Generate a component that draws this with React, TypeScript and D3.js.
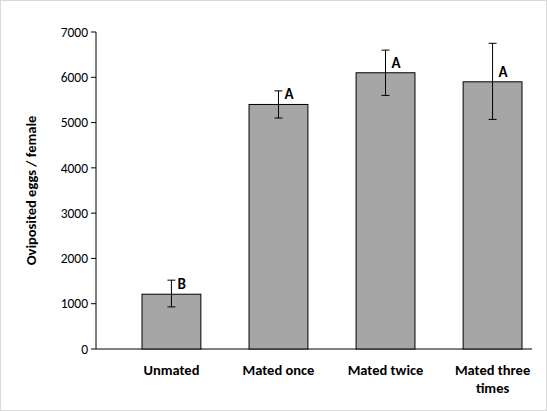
import React from "react";
import * as d3 from "d3";

const categories = ["Unmated", "Mated once", "Mated twice", "Mated three times"];
const labelLines = [["Unmated"], ["Mated once"], ["Mated twice"], ["Mated three", "times"]];
const means = [1210, 5400, 6100, 5900];
const errUp = [1520, 5700, 6600, 6750];
const errLow = [930, 5100, 5600, 5070];
const letters = ["B", "A", "A", "A"];
const yTicks = [0, 1000, 2000, 3000, 4000, 5000, 6000, 7000];

export default function App() {
  const W = 547, H = 411;
  const left = 96, right = 532, top = 32, bottom = 349;
  const x = d3.scaleBand().domain(categories).range([left + 46, left + 46 + 4 * 107 - 48]).paddingInner(0.45).paddingOuter(0);
  const y = d3.scaleLinear().domain([0, 7000]).range([bottom, top]);
  const font = "Calibri, Carlito, 'Open Sans', Arial, sans-serif";
  return (
    <svg width={W} height={H} style={{ position: "absolute", left: 0, top: 0, fontFamily: font }}>
      <rect x={0.5} y={0.5} width={W - 1} height={H - 1} fill="white" stroke="#d9d9d9" />
      <line x1={left} x2={left} y1={top} y2={bottom} stroke="black" />
      <line x1={left} x2={right} y1={bottom} y2={bottom} stroke="black" />
      {yTicks.map(t => (
        <g key={t}>
          <line x1={left - 5} x2={left} y1={y(t)} y2={y(t)} stroke="black" />
          <text x={left - 8} y={y(t)} dy="0.35em" textAnchor="end" fontSize={13.5}>{t}</text>
        </g>
      ))}
      {categories.map((c, i) => {
        const cx = x(c)! + x.bandwidth() / 2;
        return (
          <g key={c}>
            <rect x={x(c)} y={y(means[i])} width={x.bandwidth()} height={bottom - y(means[i])} fill="#a6a6a6" stroke="black" />
            <line x1={cx} x2={cx} y1={y(errUp[i])} y2={y(errLow[i])} stroke="black" />
            <line x1={cx - 4} x2={cx + 4} y1={y(errUp[i])} y2={y(errUp[i])} stroke="black" />
            <line x1={cx - 4} x2={cx + 4} y1={y(errLow[i])} y2={y(errLow[i])} stroke="black" />
            <text x={cx + 6} y={y(means[i]) - 5} fontSize={15} fontWeight="bold">{letters[i]}</text>
            {labelLines[i].map((l, j) => (
              <text key={j} x={cx} y={375 + j * 18} textAnchor="middle" fontSize={14.5} fontWeight="bold">{l}</text>
            ))}
          </g>
        );
      })}
      <text transform={`translate(36,${(top + bottom) / 2}) rotate(-90)`} textAnchor="middle" fontSize={14.5} fontWeight="bold">Oviposited eggs / female</text>
    </svg>
  );
}
